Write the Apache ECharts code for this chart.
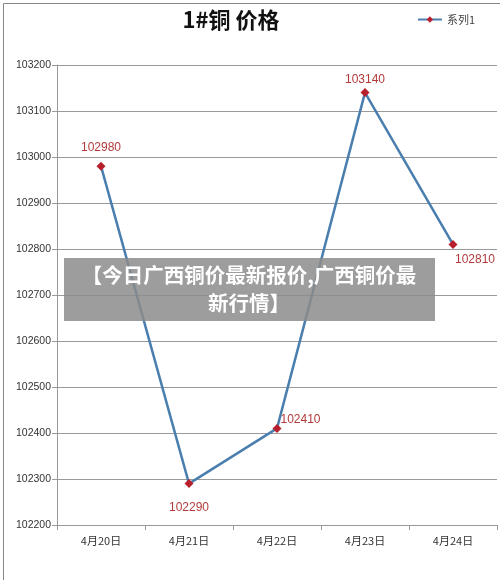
<!DOCTYPE html>
<html>
<head>
<meta charset="utf-8">
<script src="https://cdn.jsdelivr.net/npm/echarts@6/dist/echarts.min.js"></script>
<style>
  html, body { margin: 0; padding: 0; background: #fff; }
  #main { width: 500px; height: 580px; }
</style>
</head>
<body>
<div id="main"></div>
<script>
// 数据
const categories = ['4月20日', '4月21日', '4月22日', '4月23日', '4月24日'];
const prices = [102980, 102290, 102410, 103140, 102810];
const labelPos = ['top', 'bottom', 'right', 'top', 'bottom'];
const labelOffset = [[0, 1], [0, 5], [-10, -9], [0, 7], [22, -4]];

const font = '"Noto Sans CJK SC", "Liberation Sans", sans-serif';
const chart = echarts.init(document.getElementById('main'));

const option = {
  backgroundColor: '#fff',
  animation: false,
  title: {
    text: '1#铜 价格',
    left: 226,
    top: 4,
    textAlign: 'center',
    textStyle: { fontFamily: font, fontSize: 22, fontWeight: 'bold', color: '#111' }
  },
  legend: {
    data: ['系列1'],
    right: 20,
    top: 9,
    itemWidth: 24,
    itemHeight: 8,
    itemGap: 4,
    textStyle: { fontFamily: font, fontSize: 11, color: '#444' }
  },
  grid: { left: 57, right: 3, top: 65, bottom: 55 },
  xAxis: {
    type: 'category',
    data: categories,
    boundaryGap: true,
    axisLine: { lineStyle: { color: '#999', width: 1 } },
    axisTick: { show: true, length: 5, lineStyle: { color: '#999' } },
    axisLabel: { fontFamily: font, fontSize: 11, color: '#333', margin: 10 }
  },
  yAxis: {
    type: 'value',
    min: 102200,
    max: 103200,
    interval: 100,
    axisLine: { show: true, lineStyle: { color: '#999', width: 1 } },
    axisTick: { show: true, length: 5, lineStyle: { color: '#999' } },
    axisLabel: {
      fontFamily: '"Liberation Sans", sans-serif', fontSize: 10.5, color: '#333', margin: 6,
      formatter: v => String(v)
    },
    splitLine: { lineStyle: { color: '#9a9a9a', width: 1 } }
  },
  series: [{
    name: '系列1',
    type: 'line',
    data: prices.map((v, i) => ({
      value: v,
      label: { position: labelPos[i], offset: labelOffset[i] }
    })),
    symbol: 'diamond',
    symbolSize: 9,
    lineStyle: { color: '#4a7eae', width: 2.5 },
    itemStyle: { color: '#b8202e' },
    label: {
      show: true,
      distance: 9,
      fontFamily: '"Liberation Sans", sans-serif',
      fontSize: 12,
      color: '#b23a3a'
    }
  }],
  graphic: [
    {
      type: 'rect',
      left: 1, top: 1,
      shape: { width: 497, height: 577 },
      style: { fill: 'none', stroke: '#888', lineWidth: 1 },
      silent: true
    },
    {
      type: 'rect',
      left: 64, top: 258,
      shape: { width: 371, height: 63 },
      style: { fill: 'rgba(140,140,140,0.85)' },
      z: 100
    },
    {
      type: 'text',
      x: 249,
      y: 261,
      style: {
        text: '【今日广西铜价最新报价,广西铜价最\n新行情】',
        fill: '#fff',
        font: 'bold 20.5px ' + font,
        align: 'center',
        lineHeight: 28
      },
      z: 101
    }
  ]
};
chart.setOption(option);
</script>
</body>
</html>
